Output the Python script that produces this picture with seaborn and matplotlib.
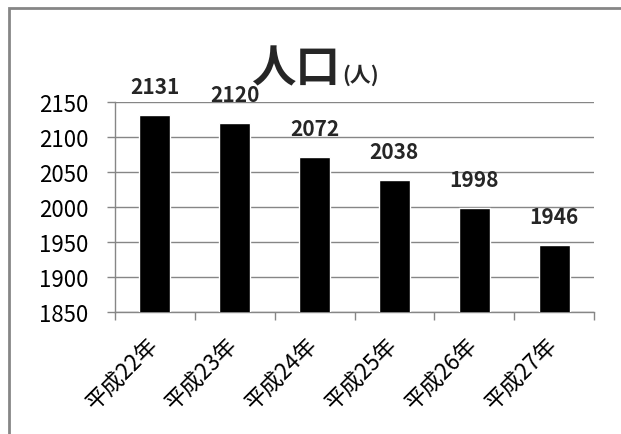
import matplotlib
matplotlib.use("Agg")
import matplotlib.pyplot as plt
import seaborn as sns
import pandas as pd
from matplotlib.patches import Rectangle

# データ
years = ["平成22年", "平成23年", "平成24年", "平成25年", "平成26年", "平成27年"]
population = [2131, 2120, 2072, 2038, 1998, 1946]
y_ticks = [1850, 1900, 1950, 2000, 2050, 2100, 2150]

df = pd.DataFrame({"年": years, "人口": population})

sns.set_theme(style="white")
plt.rcParams['font.family'] = ['Noto Sans CJK JP', 'DejaVu Sans']

GRAY = "#868686"

fig = plt.figure(figsize=(6.21, 4.35), dpi=100)
ax = fig.add_axes([115 / 621, 1 - 313 / 435, (594 - 115) / 621, (313 - 103) / 435])

sns.barplot(data=df, x="年", y="人口", color="black", width=0.39,
            saturation=1, ax=ax, zorder=3)

ax.set_ylim(y_ticks[0], y_ticks[-1])
ax.set_yticks(y_ticks)
ax.set_xlim(-0.5, len(years) - 0.5)
ax.grid(axis="y", color=GRAY, linewidth=1, zorder=0)
ax.set_xlabel("")
ax.set_ylabel("")

for s in ["top", "right"]:
    ax.spines[s].set_visible(False)
for s in ["left", "bottom"]:
    ax.spines[s].set_color(GRAY)
    ax.spines[s].set_linewidth(1)

# 目盛り
ax.tick_params(axis="y", length=6, width=1, color=GRAY, pad=13, labelsize=16, labelcolor="black", left=True)
ax.set_xticks(range(len(years)))
ax.set_xticklabels(years, rotation=45, ha="right", va="center", rotation_mode="anchor")
ax.tick_params(axis="x", which="major", length=0, pad=21, labelsize=16, labelcolor="black")
ax.set_xticks([i - 0.5 for i in range(len(years) + 1)], minor=True)
ax.tick_params(axis="x", which="minor", length=6, width=1, color=GRAY, bottom=True)

# データラベル
for i, v in enumerate(population):
    ax.annotate(str(v), (i, v), xytext=(0, 13), textcoords="offset points",
                ha="center", va="bottom", fontsize=15, fontweight="bold",
                annotation_clip=False)

# タイトル
fig.text(340 / 621, 1 - 82 / 435, "人口", ha="right", va="baseline",
         fontsize=32, fontweight="bold")
fig.text(342 / 621, 1 - 82 / 435, "(人)", ha="left", va="baseline",
         fontsize=15, fontweight="bold")

# 外枠
fig.patches.append(Rectangle((8.5 / 621, -0.1), 1.2, 1 - 9 / 435 + 0.1,
                             transform=fig.transFigure, fill=False,
                             edgecolor=GRAY, linewidth=2))

fig.savefig("out.png", dpi=100)
